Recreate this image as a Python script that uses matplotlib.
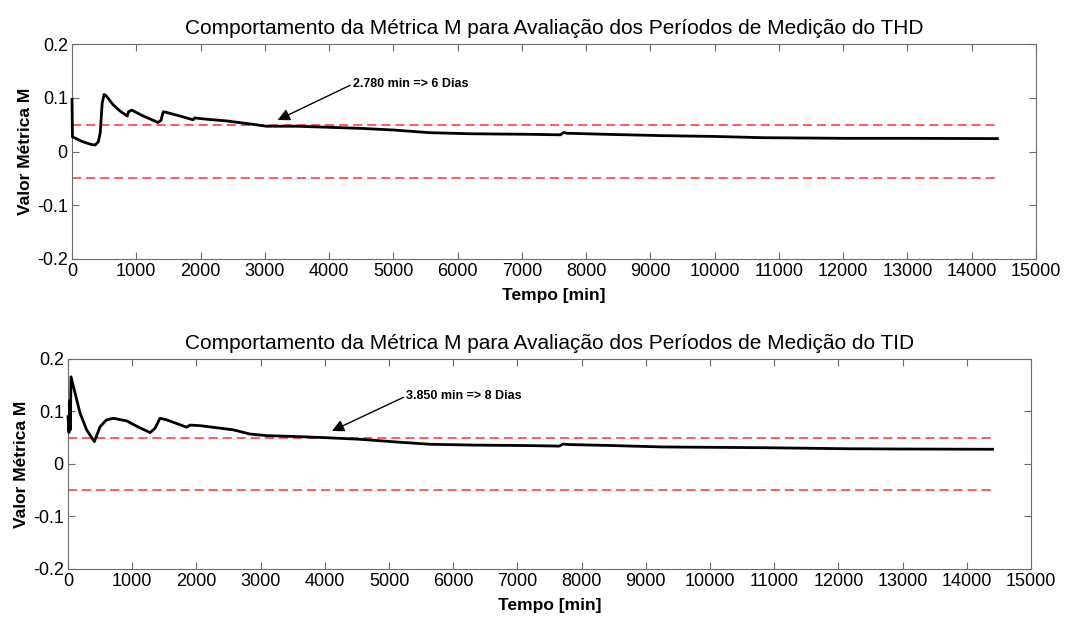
import matplotlib
matplotlib.use("Agg")
import matplotlib.pyplot as plt

plt.rcParams['font.family'] = ['Liberation Sans', 'DejaVu Sans']

# THD metric curve
thd_t = [0, 8, 50, 150, 300, 360, 410, 440, 470, 500, 530, 640, 750, 860, 880, 930,
         1110, 1340, 1385, 1420, 1460, 1680, 1885, 1910, 2100, 2400, 2820, 3025, 3500,
         4000, 4500, 5000, 5568, 6200, 7123, 7600, 7650, 7700, 8300, 9190, 10000, 10750,
         12050, 13000, 14400]
thd_m = [0.097, 0.027, 0.025, 0.019, 0.013, 0.012, 0.018, 0.035, 0.090, 0.106, 0.104,
         0.087, 0.075, 0.066, 0.074, 0.077, 0.066, 0.054, 0.058, 0.074, 0.073, 0.066,
         0.059, 0.0625, 0.060, 0.057, 0.0505, 0.047, 0.047, 0.045, 0.043, 0.040, 0.035,
         0.033, 0.032, 0.031, 0.0355, 0.034, 0.032, 0.0295, 0.028, 0.0257, 0.0245,
         0.0245, 0.024]

# TID metric curve
tid_t = [0, 15, 25, 35, 47, 110, 187, 290, 410, 500, 600, 706, 914, 1100, 1280, 1355,
         1433, 1537, 1850, 1900, 2056, 2575, 2835, 3095, 3614, 4030, 4550, 5100, 5640,
         6300, 7196, 7650, 7710, 7800, 8500, 9268, 10825, 12134, 13000, 14400]
tid_m = [0.09, 0.06, 0.12, 0.065, 0.166, 0.135, 0.097, 0.065, 0.0425, 0.071, 0.084,
         0.087, 0.082, 0.070, 0.0597, 0.068, 0.087, 0.084, 0.070, 0.074, 0.073, 0.065,
         0.057, 0.054, 0.052, 0.050, 0.047, 0.042, 0.0375, 0.036, 0.035, 0.034, 0.038,
         0.037, 0.035, 0.0324, 0.031, 0.029, 0.0285, 0.028]

limit = 0.05
t_end = 14400

panels = [
    dict(t=thd_t, m=thd_m, name="THD", note="2.780 min => 6 Dias",
         xy=(3200, 0.0586), xytext=(4370, 0.1256),
         pos=[0.0672, 0.5816, 0.9001, 0.3473]),
    dict(t=tid_t, m=tid_m, name="TID", note="3.850 min => 8 Dias",
         xy=(4110, 0.0629), xytext=(5270, 0.1295),
         pos=[0.0635, 0.0808, 0.8992, 0.3393]),
]

fig = plt.figure(figsize=(10.71, 6.19), dpi=100)

for p in panels:
    ax = fig.add_axes(p["pos"])
    ax.plot(p["t"], p["m"], color='k', linewidth=2, zorder=3, clip_on=False)
    ax.plot([0, t_end], [limit, limit], color='#ff3030', linestyle=(0, (6, 3.2)), linewidth=1.1)
    ax.plot([0, t_end], [-limit, -limit], color='#ff3030', linestyle=(0, (6, 3.2)), linewidth=1.1)
    ax.annotate(p["note"], xy=p["xy"], xytext=p["xytext"], fontsize=9, fontweight='bold',
                ha='left', va='center',
                arrowprops=dict(arrowstyle='-|>', color='k', lw=1, mutation_scale=18,
                                shrinkA=0, shrinkB=0, relpos=(0, 0.5)))
    ax.set_xlim(0, 15000)
    ax.set_ylim(-0.2, 0.2)
    ax.set_xticks(range(0, 15001, 1000))
    ax.set_yticks([-0.2, -0.1, 0, 0.1, 0.2])
    ax.set_yticklabels(["-0.2", "-0.1", "0", "0.1", "0.2"])
    ax.tick_params(direction='in', top=True, right=True, length=5, labelsize=13,
                   color='#6b6b6b', pad=3)
    for s in ax.spines.values():
        s.set_color('#6b6b6b')
    ax.set_title("Comportamento da Métrica M para Avaliação dos Períodos de Medição do " + p["name"],
                 fontsize=15, pad=7)
    ax.set_xlabel("Tempo [min]", fontsize=12.5, fontweight='bold', labelpad=6)
    ax.set_ylabel("Valor Métrica M", fontsize=12.5, fontweight='bold', labelpad=3)

plt.savefig("out.png", dpi=100)
